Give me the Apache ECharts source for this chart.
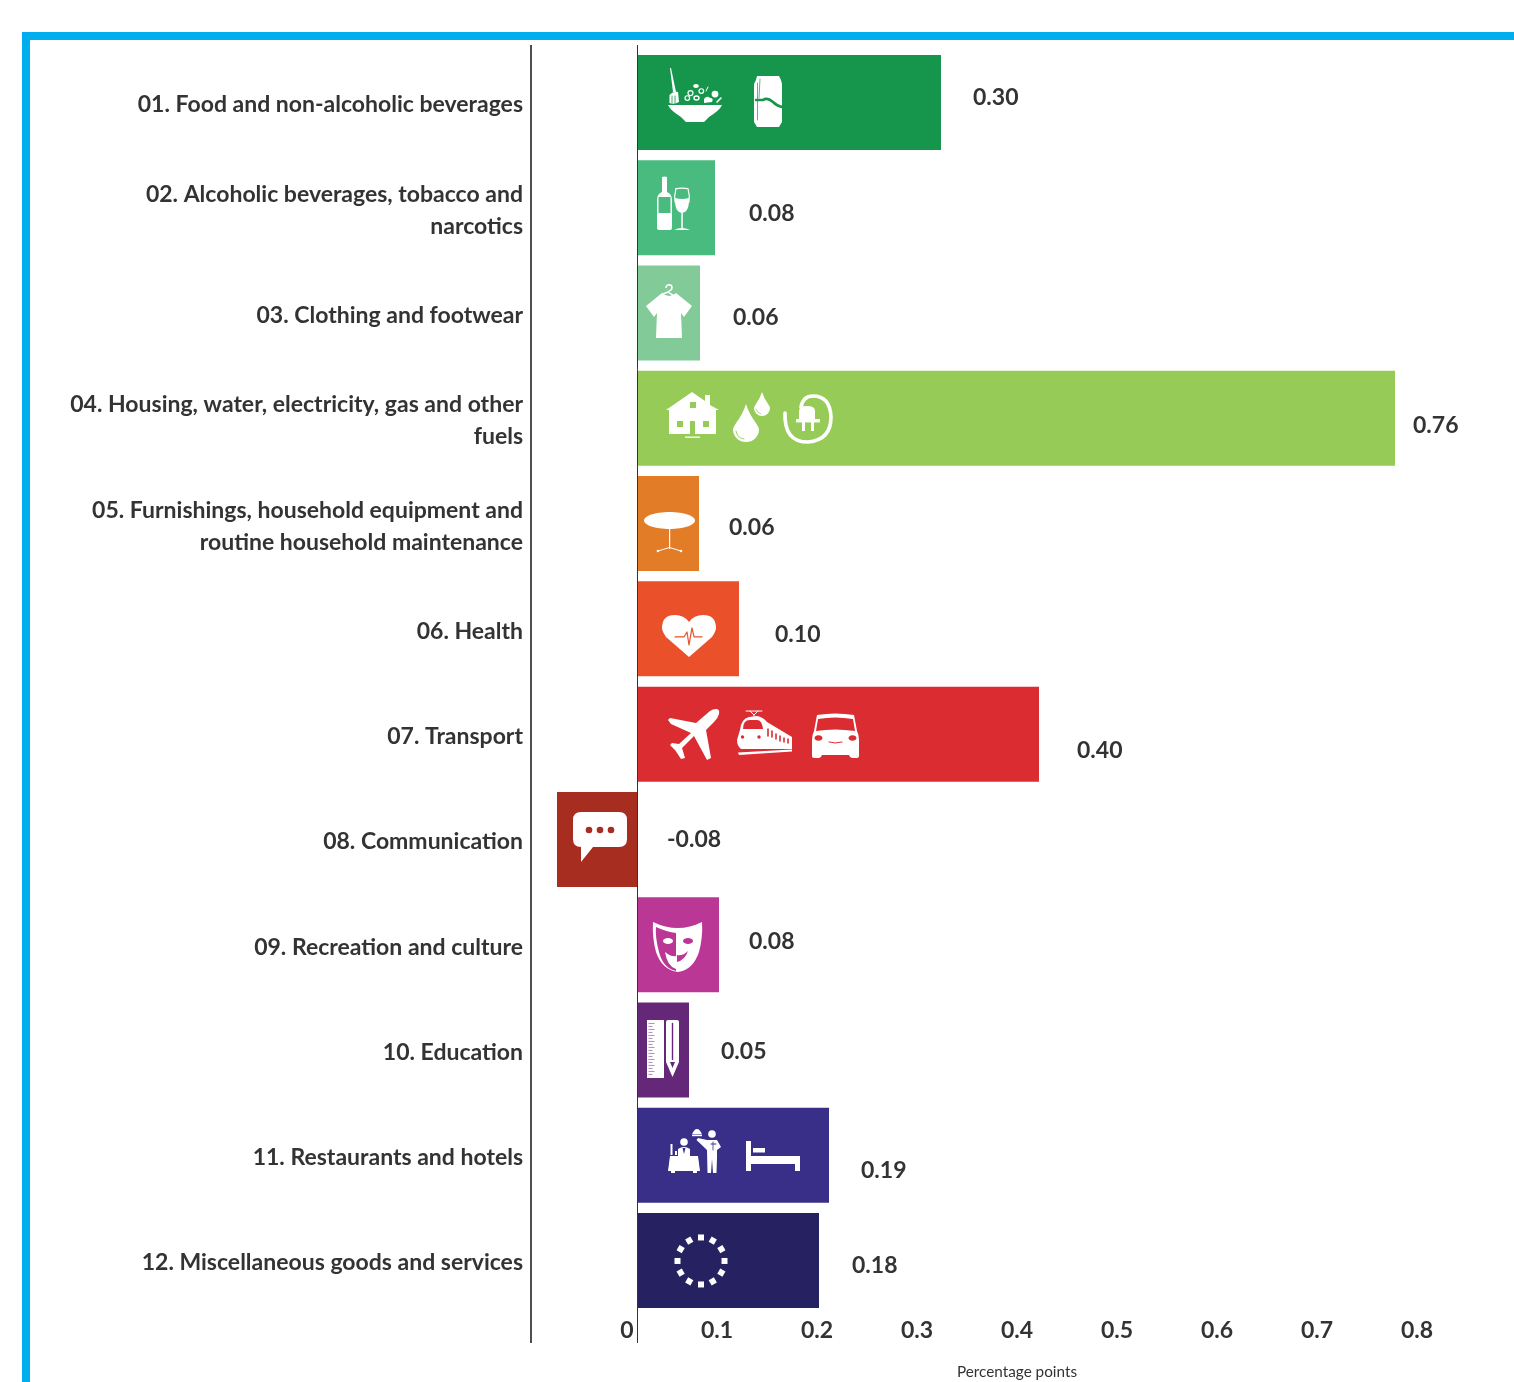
<!DOCTYPE html>
<html><head><meta charset="utf-8">
<style>html,body{margin:0;padding:0;background:#fff}#c{width:1514px;height:1382px}</style>
<script src="https://cdn.jsdelivr.net/npm/echarts@6/dist/echarts.min.js"></script>
</head><body><div id="c"></div>
<script>
const categories = [
  '01. Food and non-alcoholic beverages',
  '02. Alcoholic beverages, tobacco and\nnarcotics',
  '03. Clothing and footwear',
  '04. Housing, water, electricity, gas and other\nfuels',
  '05. Furnishings, household equipment and\nroutine household maintenance',
  '06. Health',
  '07. Transport',
  '08. Communication',
  '09. Recreation and culture',
  '10. Education',
  '11. Restaurants and hotels',
  '12. Miscellaneous goods and services'
];
const barLengths = [0.304, 0.078, 0.063, 0.758, 0.062, 0.102, 0.402, -0.080, 0.082, 0.052, 0.192, 0.182];
const printedValues = ['0.30','0.08','0.06','0.76','0.06','0.10','0.40','-0.08','0.08','0.05','0.19','0.18'];
const tickValues = [0, 0.1, 0.2, 0.3, 0.4, 0.5, 0.6, 0.7, 0.8];
const tickLabels = ['0','0.1','0.2','0.3','0.4','0.5','0.6','0.7','0.8'];
const barColors = ['#16964C','#4ABB7F','#82CB99','#96CB57','#E37C26','#EA502A','#DB2C31','#A62D20','#BB3796','#652878','#392E88','#262262'];
const labelOffsets = [[32,-4.5],[34,6],[33,5],[18,7.5],[30,4],[36,5.5],[38,16.5],[30,0.5],[30,-3.5],[32,2],[32,15.5],[33,5.5]];

const W = '#fff', TXT = '#333333', FONT = 'Lato';
const P = (d, fill) => ({type:'path', shape:{pathData:d}, style:{fill: fill || W}});
const S = (d, stroke, lw) => ({type:'path', shape:{pathData:d}, style:{fill:'none', stroke: stroke || W, lineWidth: lw || 1.5, lineCap:'round', lineJoin:'round'}});
const C = (cx, cy, r, fill) => ({type:'circle', shape:{cx, cy, r}, style:{fill: fill || W}});
const E = (cx, cy, rx, ry, fill) => ({type:'ellipse', shape:{cx, cy, rx, ry}, style:{fill: fill || W}});
const R = (x, y, width, height, fill) => ({type:'rect', shape:{x, y, width, height}, style:{fill: fill || W}});
const dropPath = (w, h) => `M${w/2} 0 Q${w*.62} ${h*.26} ${w*.88} ${h*.5} Q${w} ${h*.62} ${w} ${h*.68} A${w/2} ${h*.32} 0 0 1 0 ${h*.68} Q0 ${h*.62} ${w*.12} ${h*.5} Q${w*.38} ${h*.26} ${w/2} 0Z`;

const iconDrawers = [
  /* 0 food */ c => [
    P('M2 0 L3 0 L8 24 L5 24Z'),
    P('M1.5 35 L1.5 27 Q5 23 10 24 L11 34 Q6 37 1.5 35Z'),
    S('M4 35 L4 28 M7 35 L7 28', c, .8),
    P('M0 37 L54 37 Q52 42 41 49 L36 54 L18 54 L13 49 Q2 42 0 37Z'),
    E(28,18,2.8,2), S('M31 23 a2.3 2.3 0 1 0 4.6 0 a2.3 2.3 0 1 0 -4.6 0', W, 1.2),
    S('M20 25 a2.5 2.5 0 1 0 5 0 a2.5 2.5 0 1 0 -5 0', W, 1.2), C(47,26,3.4),
    P('M36 31 Q39 27 42 30 Q46 30 44 34 L36 35Z'), S('M17 30 a2.3 2.3 0 1 0 4.6 0 a2.3 2.3 0 1 0 -4.6 0', W, 1.2),
    S('M26 30 a2.5 2 0 1 0 5 0 a2.5 2 0 1 0 -5 0', W, 1.4), S('M40 19 L38 23', W, 1), S('M53 30 L49 34', W, 1.6)
  ],
  /* 1 can */ c => [
    P('M3 4 L4 0 L26 0 L28 4 L29 8 L29 46 L26 51 L4 51 L1 46 L1 8Z'),
    S('M4.5 7 L4.5 44', c, .7), S('M7 3 L6 22', c, .7),
    S('M3 24 L10 24 Q14 21 20 26 Q24 30 29 31', c, 2.6)
  ],
  /* 2 bottle */ c => [
    P('M5 1 Q7.5 0 10 1 L10 16 Q15 18 15 24 L15 52 Q15 54 13 54 L2 54 Q0 54 0 52 L0 24 Q0 18 5 16Z'),
    R(1.5,21,12,16,c)
  ],
  /* 3 glass */ c => [
    S('M2 .7 Q8 -.3 14 .7 Q16 8 15 14', W, 1.2), S('M2 .7 Q0 8 1 14', W, 1.2),
    P('M1 10 Q8 12 15 10 Q15.5 24 8 25 Q.5 24 1 10Z'),
    R(7.3,25,1.5,15), P('M0 42 Q8 38 16 42Z')
  ],
  /* 4 shirt */ c => [
    P('M16 9 L0 22 L8 33 L11 29 L10 54 L36 54 L35 29 L38 33 L46 22 L30 9 Q23 15 16 9Z'),
    S('M20 3.5 a3 3 0 1 1 4 3 L22 8 L27 11 M22 8 L17 10', W, 1.6)
  ],
  /* 5 house */ c => [
    P('M0 18 L26 0 L39 9 L39 3 L44 3 L44 13 L53 18 L50 18 L50 42 L3 42 L3 18Z'),
    R(24,10,6,6,c), R(11,29,6,6,c), R(37,29,6,6,c), R(24,29,5,13,c),
    R(19,44.5,15,1.3)
  ],
  /* 6 big drop */ c => [ P(dropPath(26,38)), S('M3 27 Q4 34 11 35', c, .9) ],
  /* 7 small drop */ c => [ P(dropPath(16,24)), S('M2 17 Q3 21 7 22', c, .7) ],
  /* 8 plug */ c => [
    S('M2 18 Q1 47 25 47 Q48 45 48 22 Q47 1 30 1 Q20 1 18 12', W, 3.6),
    P('M16 24 L16 16 Q16 11 24 11 Q32 11 32 16 L32 24Z'),
    R(13,24,24,3.4), R(19,27,3,9), R(28,27,3,9)
  ],
  /* 9 table */ c => [
    E(25.5,8.5,25.5,8.5), R(25,17,1.2,20),
    S('M14 39 L25.5 35.5 L37 39', W, 1), C(14,39,1.3), C(37,39,1.3)
  ],
  /* 10 heart */ c => [
    P('M27 42 L4 22 Q0 16 0 13 Q0 0 13 0 Q22 0 27 7 Q32 0 41 0 Q54 0 54 13 Q54 16 50 22Z'),
    S('M13 22 L22 22 L25 17 L27 30 L30 13 L32 22 L40 22', c, 1.2)
  ],
  /* 11 plane */ c => [
    P('M48 0 Q52 0 51 5 Q50 9 46 13 L38 21 L43 49 L39 51 L26 27 L14 39 L17 49 L13 50 L7 41 L2 36 L4 34 L11 35 L23 24 L3 15 L0 11 L2 9 L28 14 L42 2 Q45 0 48 0Z')
  ],
  /* 12 train */ c => [
    S('M9 1 L25 1 M13 1 L17 5 L21 1 M17 5 L17 7', W, 1),
    P('M3 20 Q4 9 12 7 L20 6 Q26 7 30 12 L55 27 L55 39 L4 39 Q0 36 0 30Z'),
    P('M6 19 Q6 10 13 10 L20 10 Q25 10 26 19Z', c),
    C(5.5,27,1.7,c), C(22,27,1.7,c),
    S('M31 19 L31 26 M35 21 L35 27 M39 24 L39 29 M43 26 L43 31 M47 28 L47 32 M51 29 L51 33', c, 1.6),
    P('M1 42.5 L55 39.5 L55 41.5 L2 45Z')
  ],
  /* 13 car */ c => [
    P('M5 2 Q23 -1 42 2 L45 18 Q47 22 47 27 L47 43 Q47 45 44 45 L40 45 Q38 45 37 42 L10 42 Q9 45 7 45 L3 45 Q0 45 0 43 L0 27 Q0 22 2 18Z'),
    P('M6 6 Q23 3 41 6 L43 18 Q23 15 4 18Z', c),
    E(6.5,25,4,2.8,c), E(40.5,25,4,2.8,c),
    S('M17 29 Q23 31 30 29', c, 1)
  ],
  /* 14 bubble */ c => [
    P('M8 0 L46 0 Q54 0 54 8 L54 27 Q54 35 46 35 L20 35 L8 50 L8 35 Q0 35 0 27 L0 8 Q0 0 8 0Z'),
    C(16,18,3.3,c), C(27,18,3.3,c), C(38,18,3.3,c)
  ],
  /* 15 mask */ c => [
    P('M0 0 Q25 12 49 0 Q50 15 46 30 Q40 48 25 50 Q9 48 3 30 Q-1 15 0 0Z'),
    P('M3 5 Q14 10 23 11 L23 49 Q10 46 6 30 Q2 15 3 5Z', c),
    E(15,19,5,3), E(35,19,5,3,c),
    P('M12 30 Q18 35 23 34 L23 47 Q14 44 12 30Z'),
    P('M24 33 Q30 34 35 29 Q32 38 24 40Z', c)
  ],
  /* 16 ruler */ c => {
    const out = [R(0,0,17,58)];
    for (let i = 0; i < 18; i++) out.push(R(1.5, 3 + i * 3, i % 2 ? 4 : 6, 1, '#A98FBB'));
    return out;
  },
  /* 17 pencil */ c => [
    P('M2 0 L11 0 Q13 0 13 2 L13 42 L6.5 57 L0 42 L0 2 Q0 0 2 0Z'),
    R(5.8,3,1.4,37,c), P('M4 42 L9 42 L6.5 48Z', c)
  ],
  /* 18 diner */ c => [
    P('M2 19 L30 19 L32 34 L0 34Z'), R(3,34,4,2), R(25,34,4,2),
    C(16,5,3.8), P('M10 19 L10 12 Q16 8 22 12 L22 19Z'),
    P('M14.5 11 L17.5 11 L16 17Z', c),
    R(2.5,7,2,11), R(7,14,2,4)
  ],
  /* 19 waiter */ c => [
    C(20,6,3.8),
    P('M15 12 L25 12 L29 19 L25 22 L25 30 L24.5 45 L21 45 L20 31 L19 45 L15.5 45 L15 22 L4.5 12 L6 10Z'),
    P('M0 6.5 Q2 1 5 1 Q8 1 10 6.5Z'), R(0,7,10,1.2),
    P('M19 17 L25 17 L24.5 24 L20 24Z', W), S('M19 16 L24 16', c, 1), S('M21 14 L21 22', c, .8)
  ],
  /* 20 bed */ c => [
    R(0,0,5,30), R(0,15,54,8), R(7,7,12,4.5), R(49,15,5,15)
  ],
  /* 21 ring */ c => {
    const out = [], cx = 27, cy = 27, r = 23.5, s = 3;
    for (let i = 0; i < 12; i++) {
      const a = i * Math.PI / 6, x = cx + r * Math.cos(a), y = cy + r * Math.sin(a);
      const dx = s * Math.cos(a), dy = s * Math.sin(a);
      out.push(P(`M${x+dx-dy} ${y+dy+dx} L${x-dx-dy} ${y-dy+dx} L${x-dx+dy} ${y-dy-dx} L${x+dx+dy} ${y+dy-dx}Z`));
    }
    return out;
  }
];
/* [icon, row, left edge in axis units, top offset from the row centre] */
const iconPlacement = [
  [0,0,.031,-34.5],[1,0,.116,-26.5],
  [2,1,.020,-31.8],[3,1,.037,-19.8],
  [4,2,.009,-29],
  [5,3,.029,-26.3],[6,3,.096,-14.3],[7,3,.117,-26.3],[8,3,.146,-23.3],
  [9,4,.007,-11.6],
  [10,5,.025,-13.9],
  [11,6,.031,-25.1],[12,6,.100,-24.1],[13,6,.175,-21.1],
  [14,7,-.064,-27.4],
  [15,8,.016,-22.7],
  [16,9,.010,-30],[17,9,.029,-30],
  [18,10,.031,-18.2],[19,10,.055,-27.2],[20,10,.109,-14.2],
  [21,11,.037,-26.5]
];

const chart = echarts.init(document.getElementById('c'), null, {renderer:'canvas'});
chart.setOption({
  animation:false,
  backgroundColor:'#fff',
  grid:{left:531, top:49.9, width:906, height:1263.2, containLabel:false, outerBoundsMode:'none'},
  xAxis:{
    type:'value', min:-0.106, max:0.8,
    axisLine:{show:false}, axisTick:{show:false}, splitLine:{show:false},
    name:'Percentage points', nameLocation:'middle', nameGap:51,
    nameTextStyle:{fontFamily:FONT, fontSize:15.3, color:TXT, padding:[0,0,0,66]},
    axisLabel:{
      customValues:tickValues, margin:6, fontFamily:FONT, fontSize:23, fontWeight:700, color:TXT,
      padding:[0,40,0,0], showMinLabel:true, showMaxLabel:true, hideOverlap:false,
      formatter:v => { const i = tickValues.findIndex(t => Math.abs(t - v) < 1e-6); return i === 0 ? '{z|' + tickLabels[0] + '}' : tickLabels[i]; },
      rich:{z:{padding:[0,0,0,20], fontFamily:FONT, fontSize:23, fontWeight:700, color:TXT}}
    }
  },
  yAxis:{
    type:'category', inverse:true, data:categories,
    axisLine:{show:false, onZero:false}, axisTick:{show:false}, splitLine:{show:false},
    axisLabel:{
      margin:8, align:'right', interval:0,
      formatter:v => v.split('\n').map(line => '{a|' + line + '}').join('\n'),
      rich:{a:{fontFamily:FONT, fontSize:23, fontWeight:700, lineHeight:32, color:TXT, align:'right', padding:[5,0,0,0]}}
    }
  },
  series:[
    {
      type:'bar', barWidth:95,
      data:barLengths.map((v,i) => ({
        value:v, itemStyle:{color:barColors[i]},
        label:{show:true, position:'right', distance:0, offset:labelOffsets[i], formatter:printedValues[i],
               fontFamily:FONT, fontSize:23, fontWeight:700, color:TXT}
      }))
    },
    {
      type:'custom', coordinateSystem:'cartesian2d', silent:true, clip:false, z:5,
      encode:{x:0, y:1},
      data:iconPlacement.map(p => [p[2], p[1], p[0], p[3]]),
      renderItem:(params, api) => {
        const pt = api.coord([api.value(0), api.value(1)]);
        const row = api.value(1);
        return {type:'group', x:pt[0], y:pt[1] + api.value(3), children:iconDrawers[api.value(2)](barColors[row])};
      }
    }
  ],
  graphic:[
    {type:'rect', z:10, shape:{x:22,y:32,width:1492,height:8}, style:{fill:'#00AEEF'}},
    {type:'rect', z:10, shape:{x:22,y:32,width:8,height:1350}, style:{fill:'#00AEEF'}},
    {type:'line', z:10, shape:{x1:531,y1:45,x2:531,y2:1343}, style:{stroke:'#222',lineWidth:1.6}},
    {type:'line', z:10, shape:{x1:637.5,y1:45,x2:637.5,y2:1343}, style:{stroke:'#333',lineWidth:1}}
  ]
});
</script></body></html>
